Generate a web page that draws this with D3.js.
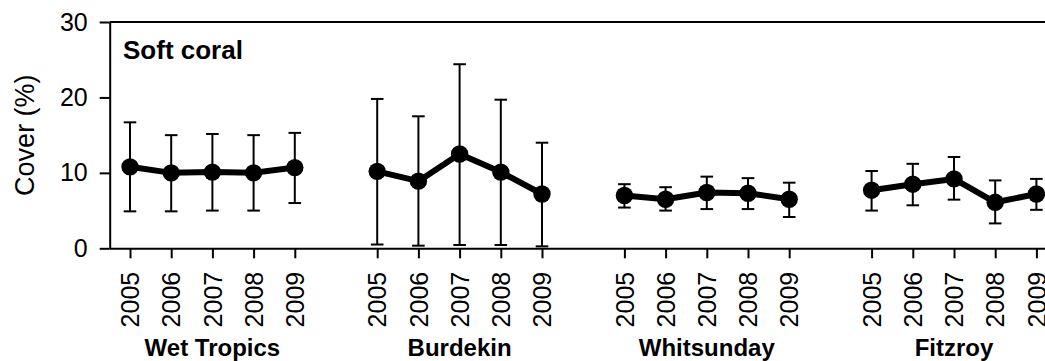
<!DOCTYPE html>
<html>
<head>
<meta charset="utf-8">
<script src="https://cdn.jsdelivr.net/npm/d3@7"></script>
<style>
  html, body { margin: 0; padding: 0; background: #fff; }
  svg { display: block; font-family: Arial, "Liberation Sans", sans-serif; }
</style>
</head>
<body>
<svg id="chart" width="1045" height="361"></svg>
<script>
// Soft coral cover by region and year (mean with upper/lower bounds)
const regions = ["Wet Tropics", "Burdekin", "Whitsunday", "Fitzroy"];
const years = [2005, 2006, 2007, 2008, 2009];
const coverMean = [
  [10.8, 10.0, 10.1, 10.0, 10.7],
  [10.2, 8.9, 12.5, 10.1, 7.2],
  [7.0, 6.5, 7.4, 7.3, 6.5],
  [7.7, 8.5, 9.2, 6.1, 7.2]
];
const coverUpper = [
  [16.7, 15.0, 15.15, 15.0, 15.3],
  [19.8, 17.5, 24.4, 19.7, 14.0],
  [8.5, 8.1, 9.5, 9.3, 8.7],
  [10.25, 11.2, 12.1, 9.0, 9.2]
];
const coverLower = [
  [4.9, 4.9, 5.0, 5.0, 6.0],
  [0.5, 0.35, 0.44, 0.44, 0.26],
  [5.4, 5.0, 5.2, 5.2, 4.15],
  [5.0, 5.7, 6.45, 3.3, 5.1]
];
const yTicks = [0, 10, 20, 30];
const panelTitle = "Soft coral";
const yTitle = "Cover (%)";

const svg = d3.select("#chart");
const plotLeft = 109.7, plotTop = 22, plotBottom = 248.3;
const slotsPerRegion = years.length + 1; // one empty slot between regions

const x = d3.scaleLinear().domain([-0.5, 23]).range([109.4, 1077.6]);
const y = d3.scaleLinear().domain([0, 30]).range([plotBottom, plotTop]);

const slot = (r, k) => r * slotsPerRegion + k;

// top frame line
svg.append("line")
  .attr("x1", plotLeft).attr("x2", 1045)
  .attr("y1", y(30)).attr("y2", y(30))
  .attr("stroke", "#000").attr("stroke-width", 2);

// y axis
const yAxis = svg.append("g")
  .attr("transform", `translate(${plotLeft},0)`)
  .call(d3.axisLeft(y).tickValues(yTicks).tickSize(10).tickSizeOuter(0).tickPadding(12));
yAxis.select(".domain").attr("stroke-width", 2);
yAxis.selectAll(".tick line").attr("stroke-width", 2);
yAxis.selectAll(".tick text").attr("font-size", 25).attr("fill", "#000")
  .style("font-family", "Arial, 'Liberation Sans', sans-serif");

// x axis: one tick per region-year
const tickIdx = [];
const tickLabel = {};
regions.forEach((reg, r) => years.forEach((yr, k) => {
  tickIdx.push(slot(r, k));
  tickLabel[slot(r, k)] = String(yr);
}));
const xAxis = svg.append("g")
  .attr("transform", `translate(0,${plotBottom})`)
  .call(d3.axisBottom(x).tickValues(tickIdx).tickFormat(i => tickLabel[i])
    .tickSize(10).tickSizeOuter(0));
xAxis.select(".domain").attr("stroke-width", 2);
xAxis.selectAll(".tick line").attr("stroke-width", 2);
xAxis.selectAll(".tick text")
  .attr("font-size", 25).attr("fill", "#000")
  .style("font-family", "Arial, 'Liberation Sans', sans-serif")
  .attr("text-anchor", "end")
  .attr("transform", "rotate(-90)")
  .attr("x", -23.5).attr("y", 0).attr("dy", "0.35em");

// region labels
svg.append("g").selectAll("text").data(regions).join("text")
  .attr("x", (d, r) => x(slot(r, 2)))
  .attr("y", 355.5)
  .attr("text-anchor", "middle")
  .attr("font-size", 24).attr("font-weight", "bold")
  .text(d => d);

// panel title
svg.append("text")
  .attr("x", 123).attr("y", 59)
  .attr("font-size", 26).attr("font-weight", "bold")
  .text(panelTitle);

// y axis title
svg.append("text")
  .attr("transform", `translate(34,${(plotTop + plotBottom) / 2}) rotate(-90)`)
  .attr("text-anchor", "middle")
  .attr("font-size", 27)
  .text(yTitle);

// series
const line = d3.line().x(d => x(d.i)).y(d => y(d.v));
regions.forEach((reg, r) => {
  const pts = years.map((yr, k) => ({
    i: slot(r, k), v: coverMean[r][k], hi: coverUpper[r][k], lo: coverLower[r][k]
  }));
  const g = svg.append("g");
  // error bars
  const eb = g.selectAll(".err").data(pts).join("g").attr("class", "err")
    .attr("stroke", "#000").attr("stroke-width", 2);
  eb.append("line")
    .attr("x1", d => x(d.i)).attr("x2", d => x(d.i))
    .attr("y1", d => y(d.hi)).attr("y2", d => y(d.lo));
  eb.append("line")
    .attr("x1", d => x(d.i) - 6.3).attr("x2", d => x(d.i) + 6.3)
    .attr("y1", d => y(d.hi)).attr("y2", d => y(d.hi));
  eb.append("line")
    .attr("x1", d => x(d.i) - 6.3).attr("x2", d => x(d.i) + 6.3)
    .attr("y1", d => y(d.lo)).attr("y2", d => y(d.lo));
  // connecting line
  g.append("path").datum(pts)
    .attr("d", line).attr("fill", "none")
    .attr("stroke", "#000").attr("stroke-width", 6).attr("stroke-linejoin", "round");
  // markers
  g.selectAll("circle").data(pts).join("circle")
    .attr("cx", d => x(d.i)).attr("cy", d => y(d.v)).attr("r", 8.7)
    .attr("fill", "#000");
});
</script>
</body>
</html>
